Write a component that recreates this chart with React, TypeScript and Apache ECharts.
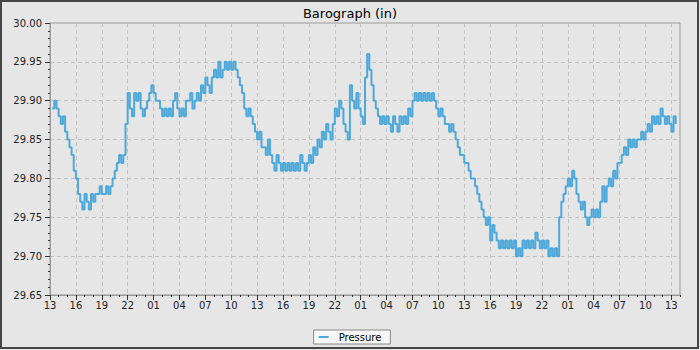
import React, { useEffect, useRef } from 'react';
import * as echarts from 'echarts';

const chartTitle = 'Barograph (in)';
const seriesName = 'Pressure';
const startClockHour = 13; // axis hour 0 is 13:00
const firstSampleHour = 0.25;
const sampleStepHours = 0.25;
const axisMaxHours = 73;
const yMin = 29.65;
const yMax = 30.0;
const yStep = 0.05;
const majorTickHours = [0, 3, 6, 9, 12, 15, 18, 21, 24, 27, 30, 33, 36, 39, 42, 45, 48, 51, 54, 57, 60, 63, 66, 69, 72];

// 15-minute readings, day 1 (13:15 .. 12:45)
const pressureDay1 = [
  29.89, 29.90, 29.89,
  29.88, 29.87, 29.88, 29.86,
  29.85, 29.84, 29.83, 29.81,
  29.80, 29.78, 29.77, 29.76,
  29.78, 29.77, 29.76, 29.78,
  29.77, 29.78, 29.78, 29.79,
  29.78, 29.78, 29.79, 29.78,
  29.79, 29.80, 29.81, 29.82,
  29.83, 29.82, 29.83, 29.87,
  29.91, 29.89, 29.88, 29.91,
  29.90, 29.91, 29.89, 29.88,
  29.89, 29.90, 29.91, 29.92,
  29.91, 29.90, 29.90, 29.89,
  29.88, 29.89, 29.88, 29.89,
  29.88, 29.90, 29.91, 29.89,
  29.88, 29.89, 29.88, 29.90,
  29.90, 29.91, 29.89, 29.90,
  29.91, 29.90, 29.92, 29.91,
  29.93, 29.92, 29.91, 29.93,
  29.94, 29.93, 29.95, 29.93,
  29.94, 29.95, 29.94, 29.95,
  29.94, 29.95, 29.94, 29.93,
  29.92, 29.91, 29.89, 29.88,
  29.89, 29.88, 29.87, 29.86,
];

// day 2 (13:00 .. 12:45)
const pressureDay2 = [
  29.85, 29.86, 29.84, 29.84,
  29.83, 29.85, 29.83, 29.82,
  29.81, 29.83, 29.82, 29.81,
  29.82, 29.81, 29.82, 29.81,
  29.82, 29.81, 29.82, 29.81,
  29.83, 29.82, 29.81, 29.82,
  29.83, 29.82, 29.84, 29.83,
  29.85, 29.84, 29.86, 29.85,
  29.87, 29.86, 29.85, 29.87,
  29.89, 29.88, 29.90, 29.89,
  29.87, 29.86, 29.85, 29.92,
  29.90, 29.89, 29.91, 29.89,
  29.88, 29.87, 29.93, 29.96,
  29.94, 29.92, 29.90, 29.89,
  29.88, 29.87, 29.88, 29.87,
  29.88, 29.87, 29.86, 29.88,
  29.87, 29.86, 29.88, 29.87,
  29.88, 29.87, 29.89, 29.88,
  29.90, 29.91, 29.90, 29.91,
  29.90, 29.91, 29.90, 29.91,
  29.90, 29.91, 29.90, 29.89,
  29.88, 29.89, 29.88, 29.87,
  29.87, 29.86, 29.87, 29.86,
  29.85, 29.84, 29.83, 29.83,
];

// day 3 (13:00 .. 13:30 next day)
const pressureDay3 = [
  29.82, 29.82, 29.81, 29.80,
  29.80, 29.79, 29.78, 29.77,
  29.76, 29.75, 29.74, 29.75,
  29.72, 29.74, 29.73, 29.72,
  29.71, 29.72, 29.71, 29.72,
  29.71, 29.72, 29.71, 29.72,
  29.70, 29.71, 29.70, 29.72,
  29.71, 29.72, 29.71, 29.72,
  29.71, 29.73, 29.72, 29.71,
  29.72, 29.71, 29.72, 29.70,
  29.71, 29.70, 29.71, 29.70,
  29.75, 29.77, 29.78, 29.79,
  29.80, 29.79, 29.81, 29.80,
  29.78, 29.77, 29.76, 29.77,
  29.75, 29.74, 29.75, 29.76,
  29.75, 29.76, 29.75, 29.77,
  29.79, 29.77, 29.79, 29.80,
  29.79, 29.81, 29.80, 29.82,
  29.82, 29.83, 29.84, 29.83,
  29.85, 29.84, 29.85, 29.84,
  29.85, 29.85, 29.86, 29.85,
  29.86, 29.87, 29.86, 29.88,
  29.87, 29.88, 29.87, 29.89,
  29.88, 29.87, 29.88, 29.87,
  29.86, 29.88, 29.87,
];

const lineColor = '#4ea9da';
const font = 'DejaVu Sans';

export default function App() {
  const ref = useRef<HTMLDivElement>(null);
  useEffect(() => {
    document.body.style.margin = '0';
    const chart = echarts.init(ref.current as HTMLDivElement, null, { renderer: 'svg' });
    const values = [...pressureDay1, ...pressureDay2, ...pressureDay3];
    const data = values.map((v, i) => [firstSampleHour + i * sampleStepHours, v]);
    const hourLabel = (h: number) => {
      if (h % 3 !== 0) return '';
      const c = (startClockHour + h) % 24;
      return (c < 10 ? '0' : '') + c;
    };
    chart.setOption({
      animation: false,
      backgroundColor: '#e6e6e6',
      textStyle: { fontFamily: font },
      title: {
        text: chartTitle,
        left: 'center',
        top: 2,
        textStyle: { fontSize: 13, fontWeight: 'normal', color: '#000', fontFamily: font },
      },
      grid: {
        left: 50,
        right: 20,
        top: 23,
        bottom: 55,
        show: true,
        borderColor: '#999',
        borderWidth: 1,
        backgroundColor: 'transparent',
      },
      legend: {
        data: [seriesName],
        top: 330,
        left: 'center',
        icon: 'rect',
        itemWidth: 10,
        itemHeight: 2,
        itemGap: 0,
        backgroundColor: '#f7f7f7',
        borderColor: '#888',
        borderWidth: 1,
        borderRadius: 0,
        padding: [2, 9, 2, 5],
        textStyle: { fontSize: 10, color: '#000', fontFamily: font, padding: [0, 0, 0, 5] },
      },
      xAxis: [
        {
          type: 'value',
          min: 0,
          max: axisMaxHours,
          interval: 3,
          axisLine: { show: true, onZero: false, lineStyle: { color: '#999' } },
          axisTick: { show: true, length: 5, lineStyle: { color: '#333' }, customValues: majorTickHours },
          axisLabel: {
            customValues: majorTickHours,
            formatter: (v: number) => hourLabel(v),
            margin: 5,
            fontSize: 10,
            color: '#222',
            fontFamily: font,
          },
          splitLine: { show: true, lineStyle: { color: '#c0c0c0', type: [4, 3] } },
        },
        {
          type: 'value',
          min: 0,
          max: axisMaxHours,
          interval: 1,
          position: 'bottom',
          axisLine: { show: false, onZero: false },
          axisTick: { show: true, length: 2, lineStyle: { color: '#333' } },
          axisLabel: { show: false },
          splitLine: { show: false },
        },
      ],
      yAxis: {
        type: 'value',
        min: yMin,
        max: yMax,
        interval: yStep,
        axisLine: { show: true, lineStyle: { color: '#999' } },
        axisTick: { show: true, length: 5, lineStyle: { color: '#333' } },
        minorTick: { show: true, splitNumber: 5, length: 2, lineStyle: { color: '#333' } },
        axisLabel: {
          formatter: (v: number) => v.toFixed(2),
          fontSize: 10,
          margin: 8,
          color: '#222',
          fontFamily: font,
        },
        splitLine: { show: true, lineStyle: { color: '#c0c0c0', type: [4, 3] } },
      },
      graphic: [
        {
          type: 'rect',
          silent: true,
          z: 100,
          shape: { x: 1, y: 1, width: 697, height: 347 },
          style: { fill: 'none', stroke: '#464646', lineWidth: 2 },
        },
      ],
      series: [
        {
          type: 'line',
          name: seriesName,
          data,
          step: 'end',
          showSymbol: false,
          symbol: 'none',
          xAxisIndex: 0,
          yAxisIndex: 0,
          lineStyle: { color: lineColor, width: 2 },
          itemStyle: { color: lineColor },
        },
      ],
    });
    return () => chart.dispose();
  }, []);
  return <div ref={ref} style={{ position: 'fixed', left: 0, top: 0, width: 700, height: 350 }} />;
}
